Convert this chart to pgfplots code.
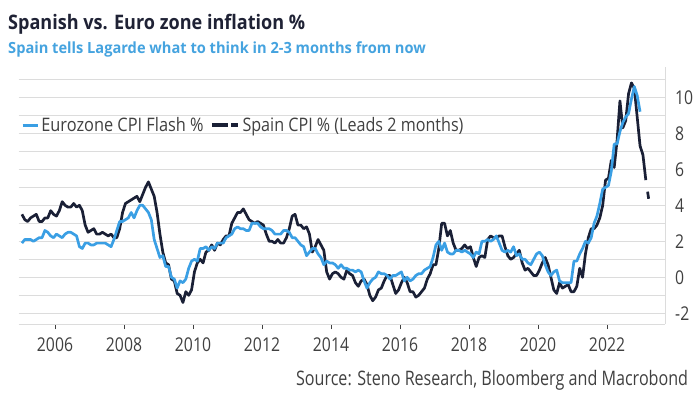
\documentclass[border=0pt]{standalone}
\usepackage{pgfplots}
\pgfplotsset{compat=1.18}
\usepackage{fontspec}
\setmainfont{Open Sans}
\usepackage{graphicx}
\definecolor{ezblue}{HTML}{3A9FE4}
\definecolor{esnavy}{HTML}{1A2036}
\definecolor{titlec}{HTML}{1F2235}
\definecolor{subc}{HTML}{45A3DF}
\definecolor{gridc}{HTML}{DCDCDC}
\definecolor{txt}{HTML}{404040}
\newcommand\tl[1]{\scalebox{0.83}[1]{#1}}
\begin{document}
\begin{tikzpicture}
\path[use as bounding box] (0,0) rectangle (700bp,400bp);
\node[anchor=base west, inner sep=0pt, text=titlec] at (8bp,370bp)
  {\resizebox{297bp}{\height}{\fontsize{20bp}{24bp}\selectfont\bfseries Spanish vs. Euro zone inflation \%}};
\node[anchor=base west, inner sep=0pt, text=subc] at (8bp,346.7bp)
  {\resizebox{417.7bp}{\height}{\fontsize{15.4bp}{18bp}\selectfont\bfseries Spain tells Lagarde what to think in 2-3 months from now}};
\node[anchor=base east, inner sep=0pt, text=txt] at (688.3bp,14bp)
  {\resizebox{392bp}{\height}{\fontsize{20bp}{24bp}\selectfont Source: Steno Research, Bloomberg and Macrobond}};
\begin{axis}[
  at={(18.5bp,76bp)}, anchor=south west,
  scale only axis, width=646.5bp, height=257bp,
  xmin=2004.942, xmax=2023.681, ymin=-2.594, ymax=11.683,
  axis x line*=bottom, axis y line*=right,
  axis line style={draw=gridc, line width=0.8bp, -},
  xtick={2006,2008,...,2022},
  xticklabels={\tl{2006},\tl{2008},\tl{2010},\tl{2012},\tl{2014},\tl{2016},\tl{2018},\tl{2020},\tl{2022}},
  ytick={-2,0,...,10},
  yticklabels={\tl{-2},\tl{0},\tl{2},\tl{4},\tl{6},\tl{8},\tl{10}},
  minor ytick={-1,1,...,11},
  ymajorgrids, yminorgrids,
  major grid style={draw=gridc, line width=0.8bp},
  minor grid style={draw=gridc, line width=0.8bp},
  tick align=outside,
  major tick length=5bp,
  minor tick length=0pt,
  xtick style={draw=txt, line width=0.8bp},
  ytick style={draw=none},
  xticklabel style={anchor=north, inner sep=0pt, font=\fontsize{19bp}{20bp}\selectfont, text=txt, yshift=-9bp},
  yticklabel style={anchor=west, inner sep=0pt, font=\fontsize{19bp}{20bp}\selectfont, text=txt, xshift=5bp},
  legend columns=2,
  legend style={at={(0.00387,0.774)}, anchor=west, draw=none, fill=none, inner sep=0pt, outer sep=0pt,
    nodes={inner sep=0pt, text=txt},
    /tikz/every odd column/.append style={column sep=2.3bp},
    /tikz/every even column/.append style={column sep=6.3bp}},
  clip=false,
]
\addplot[esnavy, line width=2.7bp, line join=round, forget plot] table[row sep=\\, x expr={2005+(\coordindex+0.5)/12}, y index=0] {
v\\
3.5\\ 3.2\\
3.1\\ 3.3\\ 3.4\\ 3.5\\ 3.1\\ 3.1\\ 3.3\\ 3.3\\ 3.7\\ 3.5\\ 3.4\\ 3.7\\
4.2\\ 4.0\\ 3.9\\ 3.9\\ 4.1\\ 3.9\\ 4.0\\ 3.7\\ 2.9\\ 2.5\\ 2.6\\ 2.7\\
2.4\\ 2.4\\ 2.5\\ 2.4\\ 2.3\\ 2.4\\ 2.2\\ 2.2\\ 2.7\\ 3.6\\ 4.1\\ 4.2\\
4.3\\ 4.4\\ 4.5\\ 4.2\\ 4.6\\ 5.0\\ 5.3\\ 4.9\\ 4.5\\ 3.6\\ 2.4\\ 1.4\\
0.8\\ 0.7\\ -0.1\\ -0.2\\ -0.9\\ -1.0\\ -1.4\\ -0.8\\ -1.0\\ -0.7\\ 0.3\\ 0.8\\
1.0\\ 0.8\\ 1.4\\ 1.5\\ 1.8\\ 1.5\\ 1.9\\ 1.8\\ 2.1\\ 2.3\\ 2.3\\ 3.0\\
3.3\\ 3.6\\ 3.6\\ 3.8\\ 3.5\\ 3.2\\ 3.1\\ 3.0\\ 3.1\\ 3.0\\ 2.9\\ 2.4\\
2.0\\ 2.0\\ 1.9\\ 2.1\\ 1.9\\ 1.9\\ 2.2\\ 2.7\\ 3.4\\ 3.5\\ 2.9\\ 2.9\\
2.7\\ 2.8\\ 2.4\\ 1.4\\ 1.7\\ 2.1\\ 1.8\\ 1.5\\ 0.3\\ -0.1\\ 0.2\\ 0.3\\
0.2\\ 0.0\\ -0.1\\ 0.4\\ 0.2\\ 0.1\\ -0.3\\ -0.5\\ -0.2\\ -0.1\\ -0.4\\ -1.0\\
-1.3\\ -1.1\\ -0.7\\ -0.6\\ -0.2\\ 0.1\\ 0.1\\ -0.4\\ -0.9\\ -0.7\\ -0.3\\ 0.0\\
-0.3\\ -0.8\\ -0.8\\ -1.1\\ -1.0\\ -0.8\\ -0.6\\ -0.1\\ 0.2\\ 0.7\\ 0.7\\ 1.6\\
3.0\\ 3.0\\ 2.3\\ 2.6\\ 1.9\\ 1.5\\ 1.5\\ 1.6\\ 1.8\\ 1.6\\ 1.7\\ 1.1\\
0.6\\ 1.1\\ 1.2\\ 1.1\\ 2.1\\ 2.3\\ 2.2\\ 2.2\\ 2.3\\ 2.3\\ 1.7\\ 1.2\\
1.0\\ 1.1\\ 1.3\\ 1.5\\ 0.8\\ 0.4\\ 0.5\\ 0.3\\ 0.1\\ 0.1\\ 0.4\\ 0.8\\
1.1\\ 0.7\\ 0.0\\ -0.7\\ -0.9\\ -0.3\\ -0.6\\ -0.5\\ -0.4\\ -0.8\\ -0.8\\ -0.5\\
0.5\\ 0.0\\ 1.3\\ 2.2\\ 2.7\\ 2.7\\ 2.9\\ 3.3\\ 4.0\\ 5.4\\ 5.5\\ 6.5\\
6.1\\ 7.6\\ 9.8\\ 8.3\\ 8.7\\ 10.2\\ 10.8\\ 10.5\\ 8.9\\ 7.3\\ 6.8\\ 5.4\\
};
\addplot[esnavy, line width=2.7bp, dash pattern=on 7.2bp off 11.7bp, dash phase=7.2bp, forget plot]
  coordinates {(2023.125,5.4) (2023.208,4.35)};
\addplot[ezblue, line width=2.7bp, line join=round, forget plot] table[row sep=\\, x expr={2005+(\coordindex+0.5)/12}, y index=0] {
v\\
1.9\\ 2.1\\ 2.1\\ 2.1\\ 2.0\\ 2.1\\ 2.2\\ 2.2\\ 2.6\\ 2.5\\ 2.3\\ 2.2\\
2.4\\ 2.3\\ 2.2\\ 2.4\\ 2.5\\ 2.5\\ 2.4\\ 2.3\\ 1.7\\ 1.6\\ 1.9\\ 1.9\\
1.8\\ 1.8\\ 1.9\\ 1.9\\ 1.9\\ 1.9\\ 1.8\\ 1.7\\ 2.1\\ 2.6\\ 3.1\\ 3.1\\
3.2\\ 3.3\\ 3.6\\ 3.3\\ 3.7\\ 4.0\\ 4.0\\ 3.8\\ 3.6\\ 3.2\\ 2.1\\ 1.6\\
1.1\\ 1.2\\ 0.6\\ 0.6\\ 0.0\\ -0.1\\ -0.6\\ -0.2\\ -0.3\\ -0.1\\ 0.5\\ 0.9\\
1.0\\ 0.9\\ 1.6\\ 1.6\\ 1.7\\ 1.5\\ 1.7\\ 1.6\\ 1.9\\ 1.9\\ 1.9\\ 2.2\\
2.3\\ 2.4\\ 2.7\\ 2.8\\ 2.7\\ 2.7\\ 2.6\\ 2.6\\ 3.0\\ 3.0\\ 3.0\\ 2.8\\
2.7\\ 2.7\\ 2.7\\ 2.6\\ 2.4\\ 2.4\\ 2.4\\ 2.6\\ 2.6\\ 2.5\\ 2.2\\ 2.2\\
2.0\\ 1.8\\ 1.7\\ 1.2\\ 1.4\\ 1.6\\ 1.6\\ 1.3\\ 1.1\\ 0.7\\ 0.9\\ 0.8\\
0.8\\ 0.7\\ 0.5\\ 0.7\\ 0.5\\ 0.5\\ 0.4\\ 0.4\\ 0.3\\ 0.4\\ 0.3\\ -0.2\\
-0.6\\ -0.3\\ -0.1\\ 0.0\\ 0.3\\ 0.2\\ 0.2\\ 0.1\\ -0.1\\ 0.1\\ 0.1\\ 0.2\\
0.3\\ -0.2\\ 0.0\\ -0.2\\ -0.1\\ 0.1\\ 0.2\\ 0.2\\ 0.4\\ 0.5\\ 0.6\\ 1.1\\
1.8\\ 2.0\\ 1.5\\ 1.9\\ 1.4\\ 1.3\\ 1.3\\ 1.5\\ 1.5\\ 1.4\\ 1.5\\ 1.4\\
1.3\\ 1.1\\ 1.4\\ 1.3\\ 2.0\\ 2.0\\ 2.1\\ 2.0\\ 2.1\\ 2.3\\ 1.9\\ 1.5\\
1.4\\ 1.5\\ 1.4\\ 1.7\\ 1.2\\ 1.3\\ 1.0\\ 1.0\\ 0.8\\ 0.7\\ 1.0\\ 1.3\\
1.4\\ 1.2\\ 0.7\\ 0.3\\ 0.1\\ 0.3\\ 0.4\\ -0.2\\ -0.3\\ -0.3\\ -0.3\\ -0.3\\
0.9\\ 0.9\\ 1.3\\ 1.6\\ 2.0\\ 1.9\\ 2.2\\ 3.0\\ 3.4\\ 4.1\\ 4.9\\ 5.0\\
5.1\\ 5.9\\ 7.4\\ 7.4\\ 8.1\\ 8.6\\ 8.9\\ 9.1\\ 9.9\\ 10.6\\ 10.1\\ 9.2\\
};
\addlegendimage{legend image code/.code={\draw[ezblue, line width=3bp] (0bp,0bp) -- (15bp,0bp);}}
\addlegendentry{\resizebox{162.4bp}{\height}{\fontsize{18.6bp}{20bp}\selectfont Eurozone CPI Flash \%}}
\addlegendimage{legend image code/.code={\draw[esnavy, line width=3.5bp] (0bp,0bp) -- (16bp,0bp); \draw[esnavy, line width=3.5bp] (19.4bp,0bp) -- (26.7bp,0bp);}}
\addlegendentry{\resizebox{221bp}{\height}{\fontsize{18.6bp}{20bp}\selectfont Spain CPI \% (Leads 2 months)}}
\end{axis}
\end{tikzpicture}
\end{document}
